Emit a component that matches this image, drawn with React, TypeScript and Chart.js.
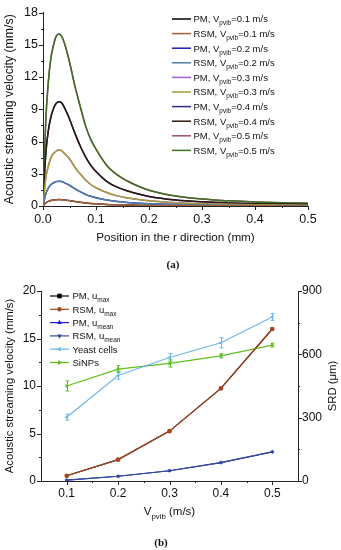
import React, { useEffect, useRef } from 'react';
import { Chart, registerables } from 'chart.js';

Chart.register(...registerables);

const FONT = '"Liberation Sans", Arial, Helvetica, sans-serif';
const TXT = '#111';

// ---------------- Chart (a): velocity profiles ----------------
const positionMm = [0, 0.005, 0.01, 0.015, 0.02, 0.025, 0.03, 0.035, 0.04, 0.05, 0.06, 0.07, 0.08, 0.09, 0.1, 0.12, 0.14, 0.16, 0.18, 0.2, 0.25, 0.3, 0.35, 0.4, 0.45, 0.5];
const velV01 = [0, 0.29, 0.43, 0.52, 0.56, 0.59, 0.6, 0.59, 0.57, 0.5, 0.42, 0.35, 0.28, 0.23, 0.2, 0.14, 0.11, 0.09, 0.07, 0.055, 0.035, 0.024, 0.018, 0.014, 0.011, 0.01];
const velV02 = [0, 1.1, 1.65, 2.0, 2.16, 2.27, 2.3, 2.28, 2.18, 1.93, 1.61, 1.33, 1.08, 0.9, 0.76, 0.55, 0.41, 0.33, 0.26, 0.21, 0.13, 0.09, 0.07, 0.05, 0.04, 0.04];
const velV03 = [0, 2.5, 3.7, 4.5, 4.9, 5.1, 5.2, 5.15, 4.9, 4.4, 3.6, 3.0, 2.45, 2.0, 1.7, 1.25, 0.94, 0.75, 0.6, 0.48, 0.3, 0.21, 0.16, 0.12, 0.1, 0.08];
const velV04 = [0, 4.7, 7.0, 8.3, 9.1, 9.55, 9.7, 9.6, 9.2, 8.1, 6.8, 5.6, 4.6, 3.8, 3.2, 2.3, 1.75, 1.4, 1.12, 0.89, 0.56, 0.39, 0.29, 0.22, 0.18, 0.16];
const velV05 = [0, 7.7, 11.5, 13.8, 15.0, 15.8, 16.0, 15.8, 15.2, 13.4, 11.2, 9.3, 7.5, 6.2, 5.3, 3.8, 2.9, 2.3, 1.84, 1.47, 0.93, 0.64, 0.48, 0.37, 0.3, 0.26];
const profilesA = [velV01, velV02, velV03, velV04, velV05];
const vpvibLabels = ['0.1', '0.2', '0.3', '0.4', '0.5'];
const pmColorsA = ['#000000', '#1a1ab4', '#a060e0', '#2c2c80', '#a04c74'];
const rsmColorsA = ['#a8603c', '#4f7fa0', '#aa9a34', '#2e1810', '#3f6f22'];

const xTicksA = [0, 0.1, 0.2, 0.3, 0.4, 0.5];
const xMinorA = [0.05, 0.15, 0.25, 0.35, 0.45];
const yTicksA = [0, 3, 6, 9, 12, 15, 18];
const yMinorA = [1.5, 4.5, 7.5, 10.5, 13.5, 16.5];

// ---------------- Chart (b): velocity & SRD vs Vpvib ----------------
const vpvib = [0.1, 0.2, 0.3, 0.4, 0.5];
const uMaxPM = [0.55, 2.25, 5.25, 9.75, 16.0];
const uMaxRSM = [0.55, 2.25, 5.25, 9.75, 16.0];
const uMeanPM = [0.1, 0.5, 1.08, 1.93, 3.07];
const uMeanRSM = [0.1, 0.5, 1.08, 1.93, 3.07];
const srdYeast = [302, 500, 585, 655, 777];
const srdYeastErr = [14, 18, 18, 24, 16];
const srdSiNPs = [450, 530, 557, 593, 644];
const srdSiNPsErr = [24, 16, 17, 10, 9];

const xTicksB = [0.1, 0.2, 0.3, 0.4, 0.5];
const xMinorB = [0.15, 0.25, 0.35, 0.45];
const yTicksB = [0, 5, 10, 15, 20];
const yMinorB = [2.5, 7.5, 12.5, 17.5];
const y1TicksB = [0, 300, 600, 900];
const y1MinorB = [150, 450, 750];

type TickSpec = { axis: string; side: 'left' | 'right' | 'bottom'; major: number[]; minor: number[] };

function makeTicksPlugin(specs: TickSpec[]) {
  return {
    id: 'originTicks',
    afterDraw(chart: any) {
      const { ctx, chartArea } = chart;
      ctx.save();
      ctx.strokeStyle = '#222';
      ctx.lineWidth = 1;
      for (const s of specs) {
        const scale = chart.scales[s.axis];
        const one = (v: number, len: number) => {
          const p = Math.round(scale.getPixelForValue(v)) + 0.5;
          ctx.beginPath();
          if (s.side === 'left') {
            ctx.moveTo(chartArea.left, p);
            ctx.lineTo(chartArea.left - len, p);
          } else if (s.side === 'right') {
            ctx.moveTo(chartArea.right, p);
            ctx.lineTo(chartArea.right + len, p);
          } else {
            ctx.moveTo(p, chartArea.bottom);
            ctx.lineTo(p, chartArea.bottom + len);
          }
          ctx.stroke();
        };
        s.major.forEach((v) => one(v, 4));
        s.minor.forEach((v) => one(v, 2));
      }
      ctx.restore();
    },
  };
}

function drawRich(ctx: CanvasRenderingContext2D, x: number, y: number, parts: { t: string; sub?: boolean }[], size: number) {
  let cx = x;
  ctx.textBaseline = 'alphabetic';
  ctx.textAlign = 'left';
  for (const p of parts) {
    const fs = p.sub ? size * 0.68 : size;
    ctx.font = `${fs}px ${FONT}`;
    ctx.fillText(p.t, cx, p.sub ? y + size * 0.33 : y);
    cx += ctx.measureText(p.t).width;
  }
  return cx - x;
}

function measureRich(ctx: CanvasRenderingContext2D, parts: { t: string; sub?: boolean }[], size: number) {
  let w = 0;
  for (const p of parts) {
    ctx.font = `${p.sub ? size * 0.68 : size}px ${FONT}`;
    w += ctx.measureText(p.t).width;
  }
  return w;
}

function drawMarker(ctx: CanvasRenderingContext2D, style: string, x: number, y: number, r: number, color: string) {
  ctx.save();
  ctx.fillStyle = color;
  ctx.strokeStyle = color;
  ctx.beginPath();
  if (style === 'rect') {
    ctx.rect(x - r, y - r, 2 * r, 2 * r);
  } else if (style === 'circle') {
    ctx.arc(x, y, r, 0, Math.PI * 2);
  } else {
    const rot = style === 'tri-up' ? 0 : style === 'tri-down' ? Math.PI : style === 'tri-left' ? -Math.PI / 2 : Math.PI / 2;
    for (let k = 0; k < 3; k++) {
      const a = rot + (k * 2 * Math.PI) / 3 - Math.PI / 2;
      const px = x + r * 1.2 * Math.cos(a);
      const py = y + r * 1.2 * Math.sin(a);
      if (k === 0) ctx.moveTo(px, py);
      else ctx.lineTo(px, py);
    }
    ctx.closePath();
  }
  ctx.fill();
  ctx.restore();
}

const legendItemsA = vpvibLabels.flatMap((v, i) => [
  { parts: [{ t: 'PM, V' }, { t: 'pvib', sub: true }, { t: '=' + v + ' m/s' }], color: pmColorsA[i] },
  { parts: [{ t: 'RSM, V' }, { t: 'pvib', sub: true }, { t: '=' + v + ' m/s' }], color: rsmColorsA[i] },
]);

const legendPluginA = {
  id: 'legendA',
  afterDraw(chart: any) {
    const ctx = chart.ctx as CanvasRenderingContext2D;
    ctx.save();
    legendItemsA.forEach((it, i) => {
      const y = 19 + i * 14.6;
      ctx.strokeStyle = it.color;
      ctx.lineWidth = 1.5;
      ctx.beginPath();
      ctx.moveTo(172, y);
      ctx.lineTo(191, y);
      ctx.stroke();
      ctx.fillStyle = TXT;
      drawRich(ctx, 193.5, y + 3.3, it.parts, 9.5);
    });
    ctx.restore();
  },
};

const colorsB = {
  pmMax: '#000000',
  rsmMax: '#a8441e',
  pmMean: '#1c1cd8',
  rsmMean: '#35508f',
  yeast: '#6cb6ea',
  sinps: '#5cbf1e',
};

const legendItemsB = [
  { parts: [{ t: 'PM, u' }, { t: 'max', sub: true }], color: colorsB.pmMax, marker: 'rect' },
  { parts: [{ t: 'RSM, u' }, { t: 'max', sub: true }], color: colorsB.rsmMax, marker: 'circle' },
  { parts: [{ t: 'PM, u' }, { t: 'mean', sub: true }], color: colorsB.pmMean, marker: 'tri-up' },
  { parts: [{ t: 'RSM, u' }, { t: 'mean', sub: true }], color: colorsB.rsmMean, marker: 'tri-down' },
  { parts: [{ t: 'Yeast cells' }], color: colorsB.yeast, marker: 'tri-left' },
  { parts: [{ t: 'SiNPs' }], color: colorsB.sinps, marker: 'tri-right' },
];

const errorBarsB: { [k: number]: number[] } = { 4: srdYeastErr, 5: srdSiNPsErr };

const plugB = {
  id: 'extrasB',
  afterDatasetsDraw(chart: any) {
    const ctx = chart.ctx as CanvasRenderingContext2D;
    ctx.save();
    Object.keys(errorBarsB).forEach((k) => {
      const di = Number(k);
      const ds = chart.data.datasets[di];
      const ys = chart.scales[ds.yAxisID];
      const xs = chart.scales.x;
      ctx.strokeStyle = ds.borderColor;
      ctx.lineWidth = 1;
      (ds.data as any[]).forEach((pt, j) => {
        const e = errorBarsB[di][j];
        const x = Math.round(xs.getPixelForValue(pt.x)) + 0.5;
        const y1 = ys.getPixelForValue(pt.y + e);
        const y2 = ys.getPixelForValue(pt.y - e);
        ctx.beginPath();
        ctx.moveTo(x, y1);
        ctx.lineTo(x, y2);
        ctx.moveTo(x - 2, y1);
        ctx.lineTo(x + 2, y1);
        ctx.moveTo(x - 2, y2);
        ctx.lineTo(x + 2, y2);
        ctx.stroke();
      });
    });
    ctx.restore();
  },
  afterDraw(chart: any) {
    const ctx = chart.ctx as CanvasRenderingContext2D;
    ctx.save();
    // legend
    legendItemsB.forEach((it, i) => {
      const y = 26 + i * 13.3;
      ctx.strokeStyle = it.color;
      ctx.lineWidth = 1.2;
      ctx.beginPath();
      ctx.moveTo(50, y);
      ctx.lineTo(69, y);
      ctx.stroke();
      drawMarker(ctx, it.marker, 59.5, y, 2.3, it.color);
      ctx.fillStyle = TXT;
      drawRich(ctx, 72.5, y + 3.3, it.parts, 9.5);
    });
    // x title with subscript
    const xParts = [{ t: 'V' }, { t: 'pvib', sub: true }, { t: ' (m/s)' }];
    const w = measureRich(ctx, xParts, 11.5);
    const ca = chart.chartArea;
    ctx.fillStyle = TXT;
    drawRich(ctx, (ca.left + ca.right) / 2 - w / 2, 245, xParts, 11.5);
    // right title
    ctx.translate(336, (ca.top + ca.bottom) / 2);
    ctx.rotate(-Math.PI / 2);
    ctx.font = `11.3px ${FONT}`;
    ctx.textAlign = 'center';
    ctx.textBaseline = 'alphabetic';
    ctx.fillText('SRD (\u03bcm)', 0, 0);
    ctx.restore();
  },
};

function ChartA() {
  const ref = useRef<HTMLCanvasElement>(null);
  useEffect(() => {
    if (!ref.current) return;
    const datasets: any[] = [];
    profilesA.forEach((prof, i) => {
      const pts = positionMm.map((x, j) => ({ x, y: prof[j] }));
      datasets.push({
        label: 'PM, Vpvib=' + vpvibLabels[i] + ' m/s',
        data: pts,
        borderColor: pmColorsA[i],
        borderWidth: 1.5,
        pointRadius: 0,
        cubicInterpolationMode: 'monotone',
        order: 1,
      });
      datasets.push({
        label: 'RSM, Vpvib=' + vpvibLabels[i] + ' m/s',
        data: pts,
        borderColor: rsmColorsA[i],
        borderWidth: 1.5,
        pointRadius: 0,
        cubicInterpolationMode: 'monotone',
        order: 0,
      });
    });
    const chart = new Chart(ref.current, {
      type: 'line',
      data: { datasets },
      options: {
        animation: false,
        responsive: false,
        events: [],
        layout: { padding: { top: 7, right: 33, left: 0, bottom: 0 } },
        plugins: { legend: { display: false }, tooltip: { enabled: false } },
        scales: {
          x: {
            type: 'linear',
            min: 0,
            max: 0.5,
            afterBuildTicks: (s: any) => {
              s.ticks = xTicksA.map((value) => ({ value }));
            },
            afterFit: (s: any) => {
              s.height = 44;
            },
            grid: { display: false, drawTicks: false },
            border: { display: true, color: '#222', width: 1 },
            ticks: {
              font: { family: FONT, size: 12.5 },
              color: TXT,
              padding: 6,
              maxRotation: 0,
              autoSkip: false,
              callback: (v: any) => Number(v).toFixed(1),
            },
            title: {
              display: true,
              text: 'Position in the r direction (mm)',
              font: { family: FONT, size: 11.7 },
              color: TXT,
              padding: { top: 0, bottom: 5.5 },
            },
          },
          y: {
            type: 'linear',
            min: 0,
            max: 18,
            afterBuildTicks: (s: any) => {
              s.ticks = yTicksA.map((value) => ({ value }));
            },
            afterFit: (s: any) => {
              s.width = 43;
            },
            grid: { display: false, drawTicks: false },
            border: { display: true, color: '#222', width: 1 },
            ticks: { font: { family: FONT, size: 12.5 }, color: TXT, padding: 5, autoSkip: false },
            title: {
              display: true,
              text: 'Acoustic streaming velocity (mm/s)',
              font: { family: FONT, size: 12.3 },
              color: TXT,
              padding: { top: 2.6, bottom: 0 },
            },
          },
        },
      } as any,
      plugins: [
        makeTicksPlugin([
          { axis: 'x', side: 'bottom', major: xTicksA, minor: xMinorA },
          { axis: 'y', side: 'left', major: yTicksA, minor: yMinorA },
        ]) as any,
        legendPluginA as any,
      ],
    });
    return () => chart.destroy();
  }, []);
  return <canvas ref={ref} width={341} height={250} style={{ position: 'absolute', left: 0, top: 0, width: 341, height: 250 }} />;
}

function ChartB() {
  const ref = useRef<HTMLCanvasElement>(null);
  useEffect(() => {
    if (!ref.current) return;
    const mk = (vals: number[]) => vpvib.map((x, j) => ({ x, y: vals[j] }));
    const base = { borderWidth: 1.2, pointRadius: 2.3, pointBorderWidth: 0 };
    const chart = new Chart(ref.current, {
      type: 'line',
      data: {
        datasets: [
          { ...base, label: 'PM, u_max', data: mk(uMaxPM), borderColor: colorsB.pmMax, backgroundColor: colorsB.pmMax, pointStyle: 'rect', yAxisID: 'y', order: 1 },
          { ...base, label: 'RSM, u_max', data: mk(uMaxRSM), borderColor: colorsB.rsmMax, backgroundColor: colorsB.rsmMax, pointStyle: 'circle', yAxisID: 'y', order: 0 },
          { ...base, label: 'PM, u_mean', data: mk(uMeanPM), borderColor: colorsB.pmMean, backgroundColor: colorsB.pmMean, pointStyle: 'triangle', yAxisID: 'y', order: 1 },
          { ...base, label: 'RSM, u_mean', data: mk(uMeanRSM), borderColor: colorsB.rsmMean, backgroundColor: colorsB.rsmMean, pointStyle: 'triangle', pointRotation: 180, yAxisID: 'y', order: 0 },
          { ...base, label: 'Yeast cells', data: mk(srdYeast), borderColor: colorsB.yeast, backgroundColor: colorsB.yeast, pointStyle: 'triangle', pointRotation: -90, yAxisID: 'y1', order: 0 },
          { ...base, label: 'SiNPs', data: mk(srdSiNPs), borderColor: colorsB.sinps, backgroundColor: colorsB.sinps, pointStyle: 'triangle', pointRotation: 90, yAxisID: 'y1', order: 0 },
        ],
      },
      options: {
        animation: false,
        responsive: false,
        events: [],
        layout: { padding: { top: 21, right: 0, left: 0, bottom: 0 } },
        plugins: { legend: { display: false }, tooltip: { enabled: false } },
        scales: {
          x: {
            type: 'linear',
            min: 0.05,
            max: 0.55,
            afterBuildTicks: (s: any) => {
              s.ticks = xTicksB.map((value) => ({ value }));
            },
            afterFit: (s: any) => {
              s.height = 44;
            },
            grid: { display: false, drawTicks: false },
            border: { display: true, color: '#222', width: 1 },
            ticks: {
              font: { family: FONT, size: 12 },
              color: TXT,
              padding: 5,
              maxRotation: 0,
              autoSkip: false,
              callback: (v: any) => Number(v).toFixed(1),
            },
          },
          y: {
            type: 'linear',
            position: 'left',
            min: 0,
            max: 20,
            afterBuildTicks: (s: any) => {
              s.ticks = yTicksB.map((value) => ({ value }));
            },
            afterFit: (s: any) => {
              s.width = 41;
            },
            grid: { display: false, drawTicks: false },
            border: { display: true, color: '#222', width: 1 },
            ticks: { font: { family: FONT, size: 12 }, color: TXT, padding: 5, autoSkip: false },
            title: {
              display: true,
              text: 'Acoustic streaming velocity (mm/s)',
              font: { family: FONT, size: 11.3 },
              color: TXT,
              padding: { top: 3.2, bottom: 0 },
            },
          },
          y1: {
            type: 'linear',
            position: 'right',
            min: 0,
            max: 900,
            afterBuildTicks: (s: any) => {
              s.ticks = y1TicksB.map((value) => ({ value }));
            },
            afterFit: (s: any) => {
              s.width = 43;
            },
            grid: { display: false, drawTicks: false },
            border: { display: true, color: '#222', width: 1 },
            ticks: { font: { family: FONT, size: 12 }, color: TXT, padding: 4, autoSkip: false },
          },
        },
      } as any,
      plugins: [
        makeTicksPlugin([
          { axis: 'x', side: 'bottom', major: xTicksB, minor: xMinorB },
          { axis: 'y', side: 'left', major: yTicksB, minor: yMinorB },
          { axis: 'y1', side: 'right', major: y1TicksB, minor: y1MinorB },
        ]) as any,
        plugB as any,
      ],
    });
    return () => chart.destroy();
  }, []);
  return <canvas ref={ref} width={341} height={255} style={{ position: 'absolute', left: 0, top: 270, width: 341, height: 255 }} />;
}

const captionStyle: React.CSSProperties = {
  position: 'absolute',
  fontFamily: '"Liberation Serif", "Times New Roman", serif',
  fontWeight: 'bold',
  fontSize: 11,
  lineHeight: '12px',
  color: '#111',
  transform: 'translate(-50%, -50%)',
  whiteSpace: 'nowrap',
};

export default function App() {
  return (
    <div style={{ position: 'absolute', left: 0, top: 0, width: 341, height: 550, background: '#fff', overflow: 'hidden' }}>
      <ChartA />
      <ChartB />
      <div style={{ ...captionStyle, left: 173, top: 264 }}>(a)</div>
      <div style={{ ...captionStyle, left: 161, top: 542 }}>(b)</div>
    </div>
  );
}
